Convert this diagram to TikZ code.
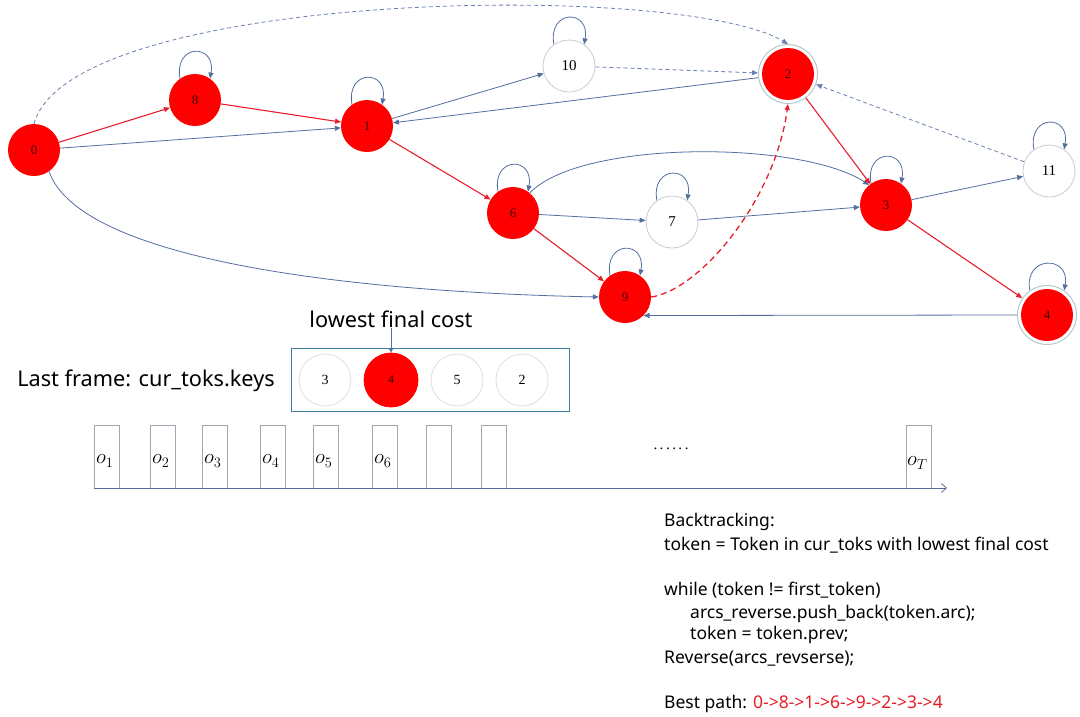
\documentclass[tikz,border=0pt]{standalone}
\usepackage{fontspec}
\setmainfont{Liberation Serif}
\newfontfamily\uifont{Noto Sans}
\usetikzlibrary{arrows.meta}
\definecolor{nred}{RGB}{255,0,0}
\definecolor{ered}{RGB}{232,30,45}
\definecolor{eblue}{RGB}{84,110,160}
\definecolor{dblue}{RGB}{105,128,178}
\definecolor{ngray}{RGB}{200,205,210}
\definecolor{ringc}{RGB}{185,200,205}
\definecolor{boxc}{RGB}{60,125,160}
\definecolor{framec}{RGB}{160,165,175}
\definecolor{pathred}{RGB}{230,30,40}
\newcommand\myloop[1]{\draw[be] (#1.125) .. controls +(-100:36) and +(-80:36) .. (#1.55);}
\begin{document}
\begin{tikzpicture}[x=1pt,y=-1pt,
  st/.style={circle,minimum size=52pt,inner sep=0pt,font=\fontsize{13}{13}\selectfont},
  rn/.style={st,fill=nred,text=black!75!red},
  wn/.style={st,draw=ngray,fill=white,line width=0.8pt,font=\fontsize{15}{15}\selectfont},
  dn/.style={rn,outer sep=4pt},
  be/.style={draw=eblue,line width=0.8pt,-{Triangle[length=6pt,width=5pt]}},
  bd/.style={be,draw=dblue,dash pattern=on 4pt off 3pt},
  re/.style={draw=ered,line width=1.1pt,-{Triangle[length=6pt,width=5pt]}},
  rd/.style={re,dash pattern=on 6pt off 4pt,line width=1.3pt},
  tk/.style={circle,minimum size=52pt,inner sep=0pt,draw=gray!25,line width=0.8pt,font=\fontsize{14}{14}\selectfont},
  frame/.style={draw=framec,line width=0.8pt,minimum width=25pt,minimum height=63pt,inner sep=0pt},
  olab/.style={anchor=west,inner sep=0pt,font=\fontsize{20}{20}\selectfont},
  code/.style={anchor=base west,inner sep=0pt,font=\uifont\fontsize{17.5}{17.5}\selectfont},
  big/.style={inner sep=0pt,font=\uifont\fontsize{21.7}{21.7}\selectfont}]
\useasboundingbox[fill=white] (0,0) rectangle (1080,716);

% graph nodes
\node[rn] (n0) at (34,150) {0};
\node[rn] (n8) at (195,100) {8};
\node[rn] (n1) at (367,126) {1};
\node[wn] (n10) at (569,66) {10};
\node[dn] (n2) at (788,74) {2};
\node[wn] (n11) at (1049,171) {11};
\node[rn] (n6) at (513,213) {6};
\node[wn] (n7) at (672,222) {7};
\node[rn] (n3) at (886,205) {3};
\node[rn] (n9) at (625,297) {9};
\node[dn] (n4) at (1047,315) {4};
\draw[ringc,line width=1pt] (n2) circle (29.5);
\draw[ringc,line width=1pt] (n4) circle (29.5);

% edges
\draw[re] (n0) -- (n8);
\draw[re] (n8) -- (n1);
\draw[be] (n0) -- (n1);
\draw[be] (n1) -- (n10);
\draw[bd] (n10) -- (n2);
\draw[be] (n2) -- (n1);
\draw[re] (n1) -- (n6);
\draw[bd] (n0.north) .. controls (70,-10) and (680,-20) .. (n2.north);
\draw[be] (n0.-55) .. controls (80,260) and (350,292) .. (n9.west);
\draw[be] (n6) -- (n7);
\draw[be] (n7) -- (n3);
\draw[be] (n6.50) .. controls (580,140) and (800,140) .. (n3.130);
\draw[re] (n2) -- (n3);
\draw[be] (n3) -- (n11);
\draw[bd] (n11) -- (n2);
\draw[re] (n3) -- (n4);
\draw[be] (n4.west) -- (n9.-45);
\draw[rd] (n9.east) .. controls (700,290) and (775,200) .. (n2.south);
\draw[re] (n6) -- (n9);

% self loops
\myloop{n8}
\myloop{n1}
\myloop{n10}
\myloop{n6}
\myloop{n7}
\myloop{n3}
\myloop{n11}
\myloop{n9}
\myloop{n4}

% last frame tokens
\node[big] (low) at (391,319) {lowest final cost};
\node[big] (last) at (146,381) {Last frame: cur\_toks.keys};
\node[draw=boxc,line width=1pt,minimum width=278pt,minimum height=63pt,inner sep=0pt] (tbox) at (430,379.5) {};
\node[tk] (t3) at (325,380) {3};
\node[tk,fill=nred,draw=nred,minimum size=54pt,font=\fontsize{12}{12}\selectfont,text=black!75!red] (t4) at (391,380) {4};
\node[tk] (t5) at (457,380) {5};
\node[tk] (t2) at (522,380) {2};
\draw[eblue,line width=1pt,-{Triangle[length=4pt,width=4pt]}] (low) -- (t4);

% frames
\node[frame] (f1) at (106.5,456.5) {};
\node[frame] (f2) at (163,456.5) {};
\node[frame] (f3) at (214.5,456.5) {};
\node[frame] (f4) at (272.5,456.5) {};
\node[frame] (f5) at (325.5,456.5) {};
\node[frame] (f6) at (384.5,456.5) {};
\node[frame] (f7) at (438.5,456.5) {};
\node[frame] (f8) at (494,456.5) {};
\node[frame] (fT) at (918.5,456.5) {};
\node[olab] (o1) at (96,461) {$o_1$};
\node[olab] (o2) at (152,461) {$o_2$};
\node[olab] (o3) at (204,461) {$o_3$};
\node[olab] (o4) at (262,461) {$o_4$};
\node[olab] (o5) at (315,461) {$o_5$};
\node[olab] (o6) at (374,461) {$o_6$};
\node[olab] (oT) at (907,463) {$o_T$};
\node[font=\fontsize{15}{15}\selectfont] (dots) at (671,449) {.\,.\,.\,.\,.\,.};
\coordinate (ax0) at (94,488);
\coordinate (ax1) at (947,488);
\draw[eblue,line width=0.8pt,-{Straight Barb[length=5pt,width=9pt]}] (ax0) -- (ax1);

% backtracking text
\node[code] (l1) at (664,526) {Backtracking:};
\node[code] (l2) at (664,550) {token = Token in cur\_toks with lowest final cost};
\node[code] (l3) at (664,595) {while (token != first\_token)};
\node[code] (l4) at (690,618) {arcs\_reverse.push\_back(token.arc);};
\node[code] (l5) at (690,639) {token = token.prev;};
\node[code] (l6) at (664,663) {Reverse(arcs\_revserse);};
\node[code] (l7) at (664,708) {Best path: \textcolor{pathred}{0->8->1->6->9->2->3->4}};
\end{tikzpicture}
\end{document}
